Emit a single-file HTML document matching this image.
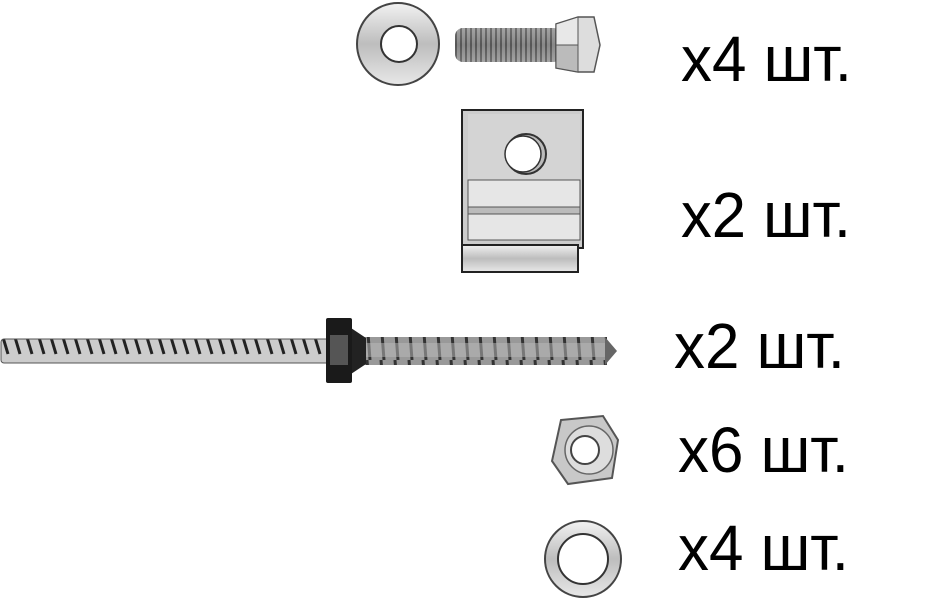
<!DOCTYPE html>
<html><head><meta charset="utf-8"><style>
html,body{margin:0;padding:0;background:#fff;width:930px;height:600px;overflow:hidden}
svg text{font-family:"Liberation Sans",sans-serif;font-size:64px;fill:#000}
</style></head><body>
<svg width="930" height="600" viewBox="0 0 930 600" xmlns="http://www.w3.org/2000/svg">
<defs>
<linearGradient id="g" x1="0" y1="0" x2="0" y2="1"><stop offset="0" stop-color="#f2f2f2"/><stop offset="0.5" stop-color="#bdbdbd"/><stop offset="1" stop-color="#e8e8e8"/></linearGradient>
<linearGradient id="gd" x1="0" y1="0" x2="0" y2="1"><stop offset="0" stop-color="#999"/><stop offset="0.5" stop-color="#555"/><stop offset="1" stop-color="#999"/></linearGradient>
<pattern id="thr" width="5" height="40" patternUnits="userSpaceOnUse"><rect width="5" height="40" fill="#aaa"/><rect width="2" height="40" fill="#555"/></pattern>
<pattern id="rod" width="12" height="30" patternUnits="userSpaceOnUse"><rect width="12" height="30" fill="#ccc"/><path d="M2 4 L8 24" stroke="#222" stroke-width="3"/></pattern>
<pattern id="scr" width="14" height="40" patternUnits="userSpaceOnUse"><rect width="14" height="40" fill="#999"/><path d="M3 0 L6 40" stroke="#333" stroke-width="3"/></pattern>
</defs>
<!-- washer 1 -->
<circle cx="398" cy="44" r="41" fill="url(#g)" stroke="#444" stroke-width="2"/>
<circle cx="399" cy="44" r="18" fill="#fff" stroke="#333" stroke-width="2"/>
<!-- bolt -->
<rect x="455" y="28" width="106" height="34" rx="8" fill="url(#thr)"/>
<rect x="455" y="28" width="106" height="34" rx="8" fill="url(#gd)" opacity="0.4"/>
<polygon points="556,24 578,17 594,17 600,45 594,72 578,72 556,68" fill="#ddd" stroke="#555" stroke-width="1.5"/>
<polygon points="556,24 578,17 578,45 556,45" fill="#e8e8e8" stroke="#555" stroke-width="1"/>
<polygon points="556,45 578,45 578,72 556,68" fill="#bbb" stroke="#555" stroke-width="1"/>
<!-- clamp -->
<rect x="462" y="110" width="121" height="138" fill="#ccc" stroke="#222" stroke-width="2"/>
<rect x="468" y="114" width="112" height="66" fill="#d4d4d4"/>
<rect x="468" y="180" width="112" height="27" fill="#e6e6e6" stroke="#555" stroke-width="1"/>
<rect x="468" y="207" width="112" height="7" fill="#bbb" stroke="#555" stroke-width="1"/>
<rect x="468" y="214" width="112" height="26" fill="#e6e6e6" stroke="#555" stroke-width="1"/>
<circle cx="526" cy="154" r="20" fill="#bbb" stroke="#333" stroke-width="2"/>
<circle cx="523" cy="154" r="18" fill="#fff" stroke="#333" stroke-width="1.5"/>
<rect x="462" y="245" width="116" height="27" fill="url(#g)" stroke="#222" stroke-width="2"/>
<!-- rod -->
<rect x="1" y="339" width="330" height="24" rx="3" fill="url(#rod)" stroke="#555" stroke-width="1"/>
<rect x="352" y="337" width="255" height="28" fill="url(#scr)"/>
<rect x="352" y="343" width="255" height="14" fill="#bbb" opacity="0.5"/>
<polygon points="605,337 617,351 605,365" fill="#666"/>
<polygon points="348,326 366,338 366,364 348,376" fill="#222"/>
<rect x="326" y="318" width="26" height="65" rx="2" fill="#1a1a1a"/>
<rect x="330" y="335" width="18" height="30" fill="#555"/>
<!-- nut -->
<polygon points="561,420 603,416 618,440 612,478 568,484 552,461" fill="#c8c8c8" stroke="#555" stroke-width="2"/>
<circle cx="589" cy="450" r="24" fill="#ddd" stroke="#666" stroke-width="1.5"/>
<circle cx="585" cy="450" r="14" fill="#fff" stroke="#444" stroke-width="2"/>
<!-- washer 2 -->
<circle cx="583" cy="559" r="38" fill="url(#g)" stroke="#444" stroke-width="2"/>
<circle cx="583" cy="559" r="25" fill="#fff" stroke="#333" stroke-width="2"/>
<!-- labels -->
<text x="681" y="81" textLength="171" lengthAdjust="spacingAndGlyphs">x4 шт.</text>
<text x="681" y="237" textLength="170" lengthAdjust="spacingAndGlyphs">x2 шт.</text>
<text x="674" y="368" textLength="171" lengthAdjust="spacingAndGlyphs">x2 шт.</text>
<text x="678" y="472" textLength="171" lengthAdjust="spacingAndGlyphs">x6 шт.</text>
<text x="678" y="570" textLength="171" lengthAdjust="spacingAndGlyphs">x4 шт.</text>
</svg>
</body></html>
